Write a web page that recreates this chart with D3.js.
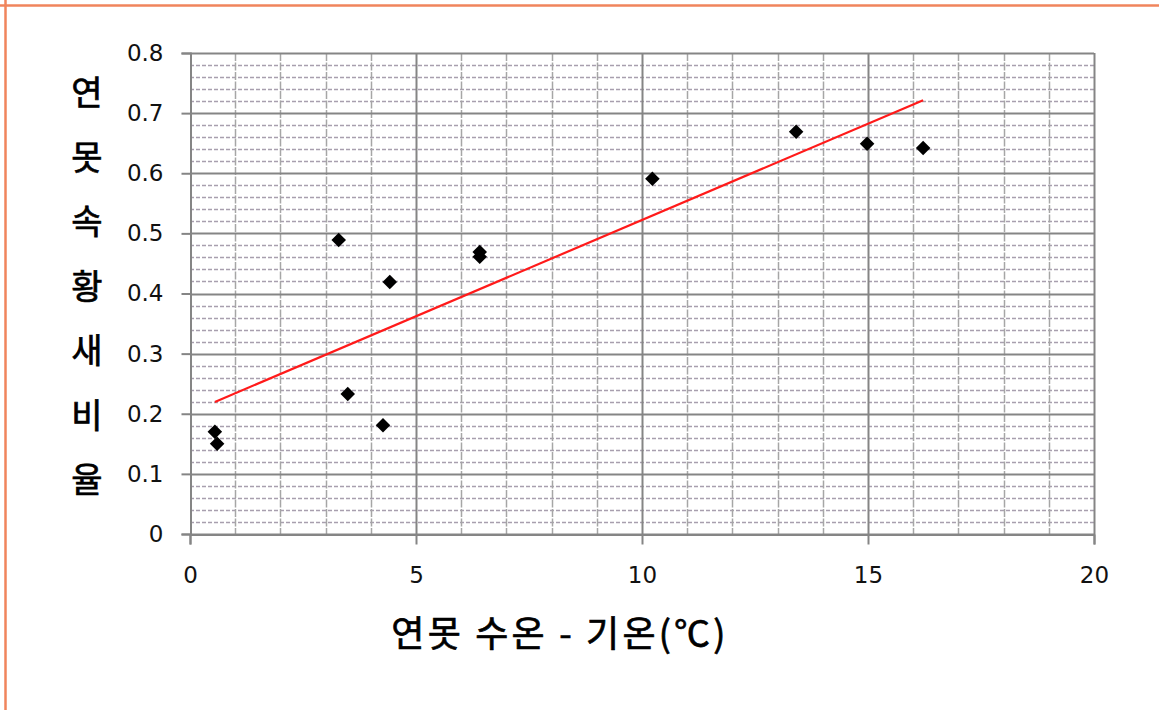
<!DOCTYPE html>
<html>
<head>
<meta charset="utf-8">
<script src="https://cdn.jsdelivr.net/npm/d3@7/dist/d3.min.js"></script>
<style>
  html, body { margin: 0; padding: 0; background: #fff; }
  svg { display: block; }
</style>
</head>
<body>
<svg id="chart" width="1159" height="710"></svg>
<script>
// ---- data ----
const xValues = [0.55, 0.60, 3.29, 3.49, 4.42, 4.27, 6.41, 6.41, 10.23, 13.41, 14.98, 16.22];
const yValues = [0.170, 0.150, 0.489, 0.233, 0.419, 0.181, 0.469, 0.461, 0.591, 0.669, 0.649, 0.642];
const xTicks = [0, 5, 10, 15, 20];
const yTicks = [0, 0.1, 0.2, 0.3, 0.4, 0.5, 0.6, 0.7, 0.8];
const xTitle = "연못 수온 - 기온(℃)";
const yTitleChars = ["연", "못", "속", "황", "새", "비", "율"];

// ---- layout ----
const W = 1159, H = 710;
const plot = { left: 190, right: 1094, top: 53, bottom: 534 };
const svg = d3.select("#chart");

// orange frame (top and left edges)
svg.append("line").attr("x1", 0).attr("x2", W).attr("y1", 5.5).attr("y2", 5.5)
  .attr("stroke", "#F0855C").attr("stroke-width", 2.5);
svg.append("line").attr("x1", 5.5).attr("x2", 5.5).attr("y1", 0).attr("y2", H)
  .attr("stroke", "#F0855C").attr("stroke-width", 2.5);

const x = d3.scaleLinear().domain([0, 20]).range([plot.left, plot.right]);
const y = d3.scaleLinear().domain([0, 0.8]).range([plot.bottom, plot.top]);

const grid = svg.append("g");
// minor horizontal gridlines (every 0.02)
const yMinor = d3.range(0, 41).map(i => i * 0.02).filter((v, i) => i % 5 !== 0);
grid.selectAll(".hmin").data(yMinor).join("line")
  .attr("x1", plot.left).attr("x2", plot.right)
  .attr("y1", d => Math.round(y(d)) + 0.5).attr("y2", d => Math.round(y(d)) + 0.5)
  .attr("stroke", "#A89FAE").attr("stroke-width", 1.3).attr("stroke-dasharray", "4,2");
// minor vertical gridlines (every 1)
const xMinor = d3.range(0, 21).filter(v => v % 5 !== 0);
grid.selectAll(".vmin").data(xMinor).join("line")
  .attr("x1", d => Math.round(x(d)) + 0.5).attr("x2", d => Math.round(x(d)) + 0.5)
  .attr("y1", plot.top).attr("y2", plot.bottom)
  .attr("stroke", "#A6A6A6").attr("stroke-width", 1.5).attr("stroke-dasharray", "8,1.5");
// major horizontal gridlines
grid.selectAll(".hmaj").data(yTicks).join("line")
  .attr("x1", plot.left).attr("x2", plot.right)
  .attr("y1", d => Math.round(y(d)) + 0.5).attr("y2", d => Math.round(y(d)) + 0.5)
  .attr("stroke", "#858585").attr("stroke-width", 2);
// major vertical gridlines
grid.selectAll(".vmaj").data(xTicks.filter(d => d > 0)).join("line")
  .attr("x1", d => Math.round(x(d)) + 0.5).attr("x2", d => Math.round(x(d)) + 0.5)
  .attr("y1", plot.top).attr("y2", plot.bottom)
  .attr("stroke", "#858585").attr("stroke-width", 2);

// axes
const axFont = "'DejaVu Sans', Verdana, sans-serif";
const yAxis = svg.append("g").attr("transform", `translate(${plot.left + 0.5},0)`)
  .call(d3.axisLeft(y).tickValues(yTicks).tickSize(9).tickPadding(18)
    .tickFormat(d => d === 0 ? "0" : d3.format(".1f")(d)));
const xAxis = svg.append("g").attr("transform", `translate(0,${plot.bottom + 0.5})`)
  .call(d3.axisBottom(x).tickValues(xTicks).tickSize(10).tickPadding(22).tickFormat(d3.format("d")));
[yAxis, xAxis].forEach(a => {
  a.select(".domain").attr("stroke", "#858585").attr("stroke-width", 2);
  a.selectAll(".tick line").attr("stroke", "#858585").attr("stroke-width", 2);
  a.selectAll(".tick text").attr("fill", "#111").attr("font-family", axFont).attr("font-size", 23);
});

// trend line (least squares fit of the points)
const n = xValues.length;
const mx = d3.mean(xValues), my = d3.mean(yValues);
let sxy = 0, sxx = 0;
for (let i = 0; i < n; i++) { sxy += (xValues[i] - mx) * (yValues[i] - my); sxx += (xValues[i] - mx) ** 2; }
const slope = sxy / sxx, intercept = my - slope * mx;
const xExt = d3.extent(xValues);
svg.append("line")
  .attr("x1", x(xExt[0])).attr("y1", y(intercept + slope * xExt[0]))
  .attr("x2", x(xExt[1])).attr("y2", y(intercept + slope * xExt[1]))
  .attr("stroke", "#FF1A1A").attr("stroke-width", 2.2);

// points
const diamond = d3.symbol().type(d3.symbolDiamond2).size(135);
svg.selectAll(".pt").data(xValues.map((v, i) => [v, yValues[i]])).join("path")
  .attr("d", diamond)
  .attr("transform", d => `translate(${x(d[0])},${y(d[1])})`)
  .attr("fill", "#000");

// titles
const krFont = "'Noto Sans CJK KR', 'Noto Sans', sans-serif";
svg.append("text").attr("x", 560).attr("y", 647)
  .attr("text-anchor", "middle").attr("font-family", krFont).attr("font-size", 36)
  .attr("letter-spacing", 3.2)
  .attr("font-weight", 400).attr("fill", "#000")
  .attr("stroke", "#000").attr("stroke-width", 0.7).text(xTitle);
svg.selectAll(".yt").data(yTitleChars).join("text")
  .attr("x", 87).attr("y", (d, i) => 93 + i * 64.5)
  .attr("dy", "0.36em")
  .attr("text-anchor", "middle").attr("font-family", krFont).attr("font-size", 34)
  .attr("font-weight", 400).attr("fill", "#000")
  .attr("stroke", "#000").attr("stroke-width", 0.7).text(d => d);
</script>
</body>
</html>
